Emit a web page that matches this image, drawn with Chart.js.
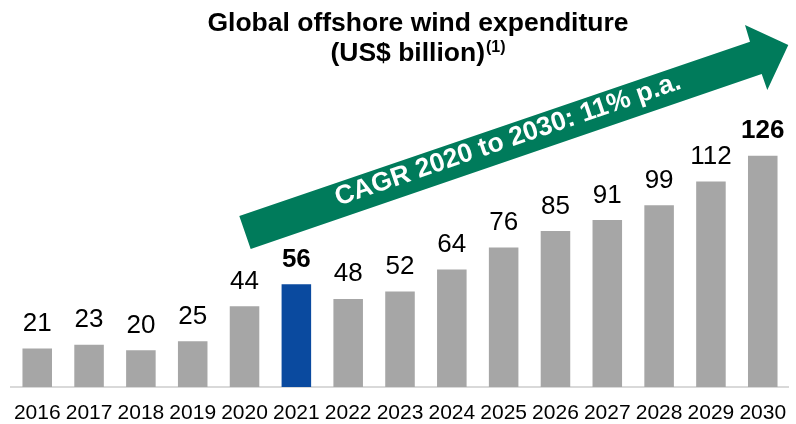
<!DOCTYPE html>
<html>
<head>
<meta charset="utf-8">
<script src="https://cdn.jsdelivr.net/npm/chart.js@4.4.1/dist/chart.umd.min.js"></script>
<style>
  html, body { margin: 0; padding: 0; background: #ffffff; overflow: hidden; }
  #wrap { position: relative; width: 800px; height: 424px; }
</style>
</head>
<body>
<div id="wrap"><canvas id="c" width="800" height="424"></canvas></div>
<script>
// ---- data ----
const years = ['2016','2017','2018','2019','2020','2021','2022','2023','2024','2025','2026','2027','2028','2029','2030'];
const expenditure = [21, 23, 20, 25, 44, 56, 48, 52, 64, 76, 85, 91, 99, 112, 126];
const highlightYear = '2021';
const boldLabelYears = ['2021', '2030'];
const titleLine1 = 'Global offshore wind expenditure';
const titleLine2 = '(US$ billion)';
const titleNote = '(1)';
const cagrText = 'CAGR 2020 to 2030: 11% p.a.';

const FONT = '"Liberation Sans", Arial, Helvetica, sans-serif';
const GREY = '#A6A6A6';
const BLUE = '#0A4A9F';
const GREEN = '#007B5B';

const barColors = years.map(y => y === highlightYear ? BLUE : GREY);

const titlePlugin = {
  id: 'titlePlugin',
  afterDraw(chart) {
    const ctx = chart.ctx;
    ctx.save();
    ctx.fillStyle = '#000';
    ctx.textBaseline = 'alphabetic';
    ctx.font = 'bold 26.5px ' + FONT;
    ctx.textAlign = 'center';
    const cx = 418;
    ctx.fillText(titleLine1, cx, 31);
    const w2 = ctx.measureText(titleLine2).width;
    ctx.font = 'bold 16px ' + FONT;
    const w3 = ctx.measureText(titleNote).width;
    const start = cx - (w2 + w3 + 1) / 2;
    ctx.textAlign = 'left';
    ctx.font = 'bold 26.5px ' + FONT;
    ctx.fillText(titleLine2, start, 61);
    ctx.font = 'bold 16px ' + FONT;
    ctx.fillText(titleNote, start + w2 + 1, 52);
    ctx.restore();
  }
};

const arrowPlugin = {
  id: 'arrowPlugin',
  afterDatasetsDraw(chart) {
    const ctx = chart.ctx;
    ctx.save();
    ctx.fillStyle = GREEN;
    ctx.beginPath();
    ctx.moveTo(239.3, 216);
    ctx.lineTo(750, 41.8);
    ctx.lineTo(745, 25);
    ctx.lineTo(788.3, 45);
    ctx.lineTo(767.3, 90);
    ctx.lineTo(761.7, 74);
    ctx.lineTo(250.7, 249);
    ctx.closePath();
    ctx.fill();
    ctx.translate(508, 140);
    ctx.rotate(-Math.atan(0.3415));
    ctx.fillStyle = '#fff';
    ctx.font = 'bold 26.5px ' + FONT;
    ctx.textAlign = 'center';
    ctx.textBaseline = 'middle';
    ctx.fillText(cagrText, 0, 0);
    ctx.restore();
  }
};

const labelPlugin = {
  id: 'labelPlugin',
  afterDatasetsDraw(chart) {
    const ctx = chart.ctx;
    const meta = chart.getDatasetMeta(0);
    ctx.save();
    ctx.fillStyle = '#000';
    ctx.textAlign = 'center';
    ctx.textBaseline = 'alphabetic';
    meta.data.forEach((bar, i) => {
      const bold = boldLabelYears.includes(years[i]);
      ctx.font = (bold ? 'bold 26px ' : '26px ') + FONT;
      ctx.fillText(String(expenditure[i]), bar.x, bar.y - 17.5);
    });
    ctx.restore();
  }
};

new Chart(document.getElementById('c'), {
  type: 'bar',
  data: {
    labels: years,
    datasets: [{
      data: expenditure,
      backgroundColor: barColors,
      borderWidth: 0,
      categoryPercentage: 1.0,
      barPercentage: 0.57
    }]
  },
  options: {
    responsive: false,
    animation: false,
    devicePixelRatio: 1,
    layout: { padding: { left: 5.6, right: 2.1, top: 93.4, bottom: 0 } },
    plugins: { legend: { display: false }, tooltip: { enabled: false }, title: { display: false } },
    scales: {
      x: {
        grid: { display: false, drawTicks: false, tickLength: 0 },
        border: { display: true, color: '#D9D9D9', width: 2 },
        ticks: { color: '#000', font: { family: FONT, size: 21 }, padding: 14, maxRotation: 0, autoSkip: false },
        afterFit(scale) { scale.height = 37; }
      },
      y: {
        display: false,
        min: 0,
        max: 160
      }
    }
  },
  plugins: [arrowPlugin, labelPlugin, titlePlugin]
});
</script>
</body>
</html>
